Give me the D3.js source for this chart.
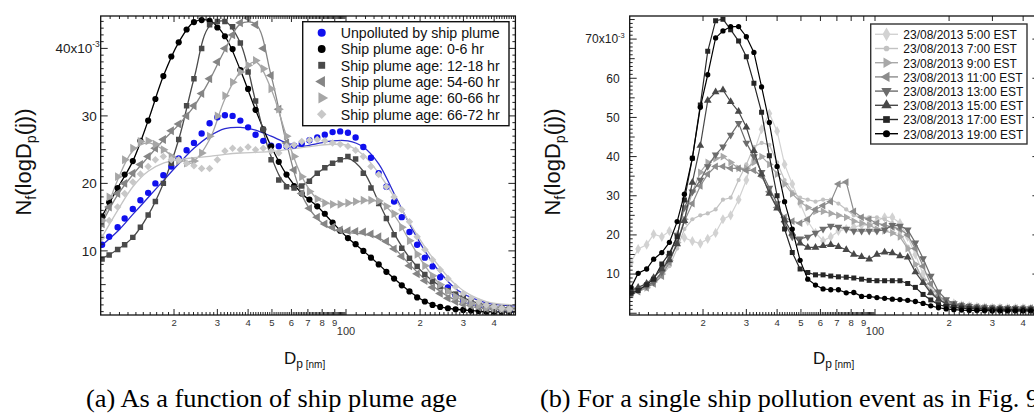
<!DOCTYPE html>
<html>
<head>
<meta charset="utf-8">
<script src="https://cdn.jsdelivr.net/npm/d3@7"></script>
<style>
  html, body { margin: 0; padding: 0; background: #fff; }
  svg { display: block; font-family: "Liberation Sans", Arial, Helvetica, sans-serif; }
  .caption { font-family: "Liberation Serif", "Times New Roman", Times, serif; }
</style>
</head>
<body>
<svg id="chart" width="1034" height="416"></svg>
<script>
// ---------------- data ----------------
// particle mobility diameters of the size bins (nm)
const diameters = [10.2, 10.9, 11.8, 12.6, 13.6, 14.6, 15.7, 16.8, 18.1, 19.5, 20.9, 22.5, 24.1, 25.9, 27.9, 30.0, 32.2, 34.6, 37.2, 40.0, 42.9, 46.1, 49.6, 53.3, 57.3, 61.5, 66.1, 71.0, 76.4, 82.0, 88.2, 94.7, 101.8, 109.4, 117.6, 126.3, 135.8, 145.9, 156.8, 168.5, 181.1, 194.6, 209.1, 224.7, 241.4, 259.5, 278.8, 299.6, 322.0, 346.0, 371.8, 399.5, 429.4, 461.4];
// diameters at which the fitted distributions are tabulated (nm)
const fitDiameters = [10, 11.8, 13.6, 15.7, 18.1, 20.9, 24.1, 27.9, 32.2, 37.2, 42.9, 49.6, 57.3, 66.1, 76.4, 88.2, 101.8, 117.6, 135.8, 156.8, 181.1, 209.1, 241.4, 278.8, 322.0, 371.8, 429.4, 490];

// (a) normalised size distributions, units of 1e-3
const unpolluted = [10.9, 12.1, 13.5, 14.8, 16.2, 17.5, 18.6, 20.0, 21.2, 22.5, 23.7, 24.9, 26.0, 27.4, 28.9, 29.8, 30.1, 30.0, 29.3, 28.3, 27.2, 26.3, 25.6, 25.5, 25.5, 25.6, 25.9, 26.4, 26.8, 27.2, 27.6, 27.7, 27.5, 26.8, 25.4, 23.8, 21.5, 19.5, 17.3, 15.0, 12.8, 10.9, 9.0, 7.7, 6.1, 4.6, 3.4, 2.6, 2.2, 1.85, 1.55, 1.3, 1.2, 1.1];
const age0to6 = [15.1, 17.2, 19.3, 21.3, 23.3, 26.3, 29.3, 32.5, 35.9, 38.8, 40.9, 42.8, 43.9, 44.2, 44.1, 43.1, 41.8, 39.9, 36.8, 34.0, 30.9, 28.0, 25.5, 23.2, 21.3, 19.6, 18.5, 17.6, 16.6, 15.5, 14.2, 13.0, 11.9, 11.0, 10.0, 9.0, 8.0, 6.9, 5.9, 4.9, 4.0, 3.1, 2.5, 2.0, 1.7, 1.5, 1.35, 1.25, 1.15, 1.1, 1.0, 1.0, 0.95, 0.95];
const age12to18 = [8.8, 9.4, 10.2, 10.9, 12.0, 13.5, 15.3, 17.3, 20.0, 23.0, 26.5, 31.5, 35.5, 40.0, 43.5, 44.0, 44.0, 43.2, 40.8, 36.5, 32.2, 28.0, 23.5, 20.5, 19.5, 19.3, 19.6, 20.3, 21.5, 22.3, 23.0, 23.5, 24.0, 23.6, 21.5, 19.3, 17.0, 14.8, 12.4, 10.4, 8.9, 7.7, 6.5, 5.5, 4.7, 4.1, 3.6, 3.1, 2.6, 2.2, 1.9, 1.7, 1.55, 1.5];
const age54to60 = [14.0, 16.5, 18.5, 20.0, 21.5, 22.8, 24.0, 25.2, 26.5, 27.8, 28.8, 30.0, 31.5, 33.3, 35.5, 38.0, 40.0, 42.0, 43.8, 44.5, 43.5, 40.0, 36.0, 31.0, 26.0, 22.0, 18.5, 16.3, 15.0, 14.0, 13.5, 13.1, 13.0, 12.9, 12.8, 12.5, 12.1, 11.4, 10.3, 9.2, 7.8, 6.6, 5.6, 4.6, 3.7, 3.0, 2.5, 2.1, 1.9, 1.65, 1.45, 1.36, 1.26, 1.2];
const age60to66 = [14.5, 18.0, 21.0, 23.5, 25.2, 26.2, 26.3, 25.8, 25.0, 24.0, 23.3, 23.0, 23.3, 24.5, 27.0, 30.0, 33.0, 35.0, 36.5, 37.5, 38.2, 37.0, 34.0, 31.0, 27.0, 24.0, 21.0, 18.8, 17.7, 17.1, 16.9, 16.9, 17.1, 17.3, 17.5, 17.5, 17.4, 16.6, 15.5, 13.5, 11.5, 9.5, 7.8, 6.3, 5.0, 4.0, 3.2, 2.6, 2.2, 1.9, 1.6, 1.45, 1.35, 1.3];
const age66to72 = [12.0, 14.5, 16.5, 18.5, 20.2, 21.4, 22.5, 23.5, 24.0, 23.5, 23.5, 23.0, 22.6, 22.2, 22.2, 23.5, 24.8, 25.2, 25.0, 25.4, 25.0, 25.2, 24.8, 24.5, 25.5, 25.7, 26.2, 26.4, 26.5, 26.3, 26.0, 25.8, 25.5, 24.9, 24.0, 22.5, 21.3, 19.5, 18.0, 16.1, 14.3, 12.1, 10.2, 8.7, 7.2, 5.9, 4.7, 3.7, 3.0, 2.5, 2.0, 1.75, 1.5, 1.4];

// (a) fitted distributions at fitDiameters
const fitUnpolluted = [10.6, 12.9, 15.4, 17.9, 20.4, 22.9, 25.2, 27.0, 28.1, 28.3, 27.9, 27.0, 26.0, 25.5, 25.9, 26.3, 26.3, 25.4, 22.9, 18.5, 14.0, 10.0, 6.8, 4.4, 3.1, 2.3, 1.95, 1.85];
const fitAge0to6 = [14.6, 19.3, 23.3, 29.3, 35.9, 40.9, 43.9, 44.1, 41.8, 36.8, 30.9, 25.5, 21.3, 18.5, 16.6, 14.2, 11.9, 10.0, 8.0, 5.9, 4.0, 2.5, 1.7, 1.35, 1.15, 1.0, 0.95, 0.95];
const fitAge12to18 = [8.7, 10.2, 12.0, 15.3, 20.0, 26.5, 35.5, 43.3, 44.0, 40.8, 32.2, 24.0, 19.8, 19.7, 21.5, 23.0, 23.7, 21.8, 17.2, 12.6, 9.0, 6.5, 4.8, 3.6, 2.6, 1.95, 1.6, 1.5];
const fitAge54to60 = [13.5, 18.3, 21.3, 23.9, 26.4, 28.7, 31.4, 35.3, 39.8, 43.6, 43.6, 36.0, 26.0, 18.3, 14.8, 13.2, 12.7, 12.5, 11.9, 10.4, 8.0, 5.8, 4.0, 2.7, 2.0, 1.55, 1.3, 1.25];
const fitAge60to66 = [13.0, 20.5, 24.8, 26.0, 25.0, 23.5, 23.4, 26.5, 32.5, 36.5, 38.0, 34.0, 27.0, 21.0, 17.7, 16.9, 17.0, 17.4, 17.3, 15.3, 11.5, 7.8, 5.0, 3.2, 2.2, 1.7, 1.4, 1.35];
const fitAge66to72 = [11.5, 16.0, 19.5, 21.8, 23.0, 23.5, 23.8, 24.0, 24.3, 24.5, 24.6, 24.7, 25.0, 25.3, 25.6, 25.8, 25.6, 24.2, 21.5, 18.0, 14.2, 10.6, 7.5, 5.0, 3.4, 2.5, 2.1, 2.0];

const namesA = ["Unpolluted by ship plume", "Ship plume age: 0-6 hr", "Ship plume age: 12-18 hr", "Ship plume age: 54-60 hr", "Ship plume age: 60-66 hr", "Ship plume age: 66-72 hr"];

// (b) one ship pollution event, units of 1e-3
const t0500 = [13.0, 16.4, 17.5, 20.2, 19.5, 21.0, 20.0, 19.3, 18.4, 17.8, 19.0, 20.5, 24.0, 25.0, 29.0, 34.0, 41.0, 47.0, 51.0, 46.5, 38.0, 33.0, 28.0, 23.5, 20.5, 18.5, 19.5, 21.0, 21.5, 22.0, 22.5, 22.5, 23.5, 24.5, 24.5, 23.0, 19.5, 15.0, 10.0, 6.5, 4.0, 3.0, 2.5, 2.0, 1.8, 1.6, 1.5, 1.4, 1.4, 1.3, 1.3, 1.3, 1.2, 1.2];
const t0700 = [6.0, 6.5, 7.0, 7.5, 9.5, 12.0, 16.5, 21.5, 24.0, 25.0, 25.5, 26.5, 29.0, 29.5, 34.0, 38.0, 42.5, 43.5, 43.0, 38.5, 34.0, 31.0, 29.5, 29.0, 28.5, 29.0, 29.0, 28.0, 26.5, 25.0, 24.5, 24.5, 24.5, 24.0, 23.0, 20.5, 17.0, 12.5, 8.0, 5.0, 3.5, 2.8, 2.3, 2.0, 1.7, 1.6, 1.5, 1.4, 1.4, 1.3, 1.3, 1.3, 1.3, 1.3];
const t0900 = [5.5, 6.0, 6.5, 8.0, 10.0, 13.5, 18.0, 24.0, 31.0, 36.0, 38.5, 39.5, 40.0, 38.5, 37.0, 37.0, 38.5, 40.0, 38.0, 35.5, 33.0, 30.5, 28.5, 27.0, 26.0, 26.0, 25.5, 25.0, 24.5, 23.5, 23.0, 22.5, 21.5, 21.0, 20.5, 19.5, 16.5, 12.5, 8.5, 5.5, 3.5, 2.7, 2.2, 1.9, 1.7, 1.5, 1.4, 1.3, 1.3, 1.2, 1.2, 1.2, 1.2, 1.2];
const t1100 = [4.8, 5.5, 6.5, 7.5, 9.5, 13.0, 18.0, 23.5, 28.0, 32.5, 35.5, 37.5, 37.5, 37.0, 37.0, 36.5, 36.5, 35.0, 31.0, 27.0, 24.5, 23.5, 23.0, 24.0, 26.5, 27.5, 28.5, 33.0, 33.5, 26.0, 24.5, 24.0, 23.0, 22.5, 22.0, 21.5, 20.0, 16.5, 12.0, 7.5, 4.5, 3.0, 2.4, 2.0, 1.8, 1.6, 1.5, 1.4, 1.4, 1.3, 1.3, 1.3, 1.3, 1.3];
const t1300 = [5.2, 6.0, 7.0, 8.0, 10.5, 14.5, 20.0, 27.0, 31.0, 34.0, 37.5, 40.5, 42.5, 45.5, 48.5, 43.5, 40.0, 36.0, 32.0, 28.0, 23.0, 19.5, 19.0, 19.5, 20.5, 21.5, 22.3, 22.0, 21.5, 21.0, 21.0, 21.0, 21.0, 21.3, 22.5, 22.3, 21.3, 18.0, 14.0, 9.5, 5.5, 3.5, 2.5, 2.0, 1.8, 1.6, 1.5, 1.4, 1.3, 1.3, 1.3, 1.2, 1.2, 1.2];
const t1500 = [5.8, 6.6, 7.6, 9.1, 11.3, 13.6, 17.7, 23.6, 33.4, 42.8, 54.3, 56.5, 57.0, 54.0, 51.5, 47.5, 41.5, 35.5, 30.6, 26.8, 23.8, 20.4, 17.9, 16.8, 16.8, 17.2, 17.5, 17.0, 16.2, 15.0, 14.4, 13.8, 15.0, 15.6, 15.4, 14.6, 14.3, 10.5, 7.8, 5.2, 3.5, 2.4, 2.0, 1.7, 1.5, 1.3, 1.2, 1.1, 1.1, 1.0, 1.0, 1.0, 1.0, 1.0];
const t1700 = [5.1, 5.8, 7.3, 8.7, 12.6, 15.3, 19.5, 28.9, 39.6, 53.2, 66.9, 74.7, 75.1, 72.4, 69.5, 65.5, 58.7, 51.3, 40.2, 30.0, 21.5, 15.5, 11.3, 10.4, 9.8, 9.8, 9.5, 9.3, 9.2, 9.0, 8.7, 8.4, 8.3, 8.3, 8.3, 8.3, 7.6, 6.6, 4.8, 3.4, 2.2, 1.7, 1.5, 1.3, 1.2, 1.1, 1.0, 1.0, 1.0, 0.95, 0.95, 0.9, 0.9, 0.9];
const t1900 = [6.6, 10.2, 11.3, 13.8, 15.5, 18.1, 23.4, 30.4, 39.6, 52.6, 60.9, 70.3, 72.1, 73.2, 73.2, 70.6, 66.6, 57.8, 48.7, 37.5, 28.5, 21.5, 13.5, 8.7, 7.2, 6.2, 6.0, 6.0, 5.2, 5.3, 4.3, 4.3, 4.0, 3.8, 3.6, 3.5, 3.3, 3.0, 2.5, 1.9, 1.4, 1.1, 0.9, 0.8, 0.7, 0.7, 0.65, 0.6, 0.6, 0.6, 0.6, 0.6, 0.6, 0.6];

const namesB = ["23/08/2013 5:00 EST", "23/08/2013 7:00 EST", "23/08/2013 9:00 EST", "23/08/2013 11:00 EST", "23/08/2013 13:00 EST", "23/08/2013 15:00 EST", "23/08/2013 17:00 EST", "23/08/2013 19:00 EST"];

// axis ticks
const xMajorTicks = [20, 30, 40, 50, 60, 70, 80, 90, 100, 200, 300, 400];
const xMajorLabels = ["2", "3", "4", "5", "6", "7", "8", "9", "100", "2", "3", "4"];
const yTicksA = [10, 20, 30, 40];
const yLabelsA = ["10", "20", "30", "40x10"];
const yTicksB = [10, 20, 30, 40, 50, 60, 70];
const yLabelsB = ["10", "20", "30", "40", "50", "60", "70x10"];
const yExponent = "-3";
const captionA = "(a) As a function of ship plume age";
const captionB = "(b) For a single ship pollution event as in Fig. 9";

// ---------------- drawing ----------------
const svg = d3.select("#chart");
svg.append("rect").attr("width", 1034).attr("height", 416).attr("fill", "#fff");
const defs = svg.append("defs");

const symbolFor = {
  circle:   [d3.symbolCircle, 0],
  square:   [d3.symbolSquare, 0],
  triUp:    [d3.symbolTriangle, 0],
  triDown:  [d3.symbolTriangle, 180],
  triLeft:  [d3.symbolTriangle, -90],
  triRight: [d3.symbolTriangle, 90],
  diamond:  [d3.symbolSquare, 45],
  spike:    [d3.symbolDiamond, 0]
};

function markers(g, pts, shape, size, color) {
  const [type, rot] = symbolFor[shape];
  const d = d3.symbol().type(type).size(size)();
  g.selectAll(null).data(pts).join("path")
    .attr("d", d)
    .attr("transform", p => `translate(${p[0]},${p[1]}) rotate(${rot})`)
    .attr("fill", color);
}

// minor tick positions for the log axis
const xMinorTicks = d3.range(11, 100).filter(v => v % 10 !== 0)
  .concat(d3.range(110, 490, 10).filter(v => v % 100 !== 0));

function drawFrame(p) {
  const g = svg.append("g");
  const [xl, xr] = p.x.range();
  const [yb, yt] = p.y.range();
  const [v0, v1] = p.y.domain();

  // y ticks, left and right
  let path = "";
  for (let v = Math.ceil(v0); v <= Math.floor(v1); v++) {
    const len = v % 10 === 0 ? 7 : (v % 5 === 0 ? 5 : 3);
    path += `M${xl},${p.y(v)}h${len}`;
    if (p.rightMinor || v % 10 === 0) path += `M${xr},${p.y(v)}h${-(v % 10 === 0 ? p.rightMajorLen : len)}`;
  }
  // x ticks, bottom and top
  xMajorTicks.forEach(d => {
    path += `M${p.x(d)},${yb}v-6`;
    path += `M${p.x(d)},${yt}v${p.topMajorLen}`;
  });
  xMinorTicks.forEach(d => {
    path += `M${p.x(d)},${yb}v-3`;
    if (p.topMinor) path += `M${p.x(d)},${yt}v3`;
  });
  g.append("path").attr("d", path).attr("stroke", "#222").attr("stroke-width", 1).attr("fill", "none");

  g.append("rect").attr("x", xl).attr("y", yt).attr("width", xr - xl).attr("height", yb - yt)
    .attr("fill", "none").attr("stroke", "#111").attr("stroke-width", 1.3);

  // y tick labels
  p.yTicks.forEach((v, i) => {
    const last = i === p.yTicks.length - 1;
    const t = g.append("text")
      .attr("x", last ? xl - p.expGap : xl - p.labelGap)
      .attr("y", p.y(v) + p.yFont * 0.36)
      .attr("text-anchor", "end")
      .attr("font-size", p.yFont)
      .attr("fill", "#222");
    t.append("tspan").text(p.yLabels[i]);
    if (last) {
      t.append("tspan").attr("font-size", p.yFont * 0.62).attr("dy", -p.yFont * 0.45).text(yExponent);
    }
  });

  // x tick labels
  xMajorTicks.forEach((d, i) => {
    const isDecade = xMajorLabels[i] === "100";
    g.append("text")
      .attr("x", p.x(d))
      .attr("y", isDecade ? yb + 20 : yb + 10.5)
      .attr("text-anchor", "middle")
      .attr("font-size", isDecade ? 11 : 9.5)
      .attr("fill", "#333")
      .text(xMajorLabels[i]);
  });

  // axis titles
  const yt2 = g.append("text")
    .attr("transform", `translate(${p.yTitleX},162) rotate(-90)`)
    .attr("text-anchor", "middle").attr("font-size", 22).attr("fill", "#111");
  yt2.append("tspan").text("N");
  yt2.append("tspan").attr("font-size", 14).attr("dy", 4.5).text("f");
  yt2.append("tspan").attr("dy", -4.5).text("(logD");
  yt2.append("tspan").attr("font-size", 14).attr("dy", 4.5).text("p");
  yt2.append("tspan").attr("dy", -4.5).text("(j))");

  const xt = g.append("text")
    .attr("x", p.xTitleX).attr("y", 364)
    .attr("font-size", 17).attr("fill", "#111");
  xt.append("tspan").text("D");
  xt.append("tspan").attr("font-size", 12).attr("dy", 4).text("p");
  xt.append("tspan").attr("font-size", 10).text(" [nm]");
}

function clipFor(id, p) {
  const [xl, xr] = p.x.range();
  const [yb, yt] = p.y.range();
  defs.append("clipPath").attr("id", id).append("rect")
    .attr("x", xl).attr("y", yt).attr("width", xr - xl).attr("height", yb - yt);
  return `url(#${id})`;
}

// ----- panel (a) -----
const pA = {
  x: d3.scaleLog().domain([10.07, 488]).range([100.7, 515.4]),
  y: d3.scaleLinear().domain([0.5, 44.8]).range([315, 16]),
  yTicks: yTicksA, yLabels: yLabelsA, yFont: 13.5, labelGap: 4, expGap: 1,
  rightMinor: true, rightMajorLen: 7, topMinor: true, topMajorLen: 6,
  yTitleX: 31, xTitleX: 284
};

const seriesA = [
  { name: namesA[0], values: unpolluted, fit: fitUnpolluted, shape: "circle", size: 32, color: "#1010ee", line: "#2a2ad0" },
  { name: namesA[1], values: age0to6, fit: fitAge0to6, shape: "circle", size: 30, color: "#000000", line: "#000000" },
  { name: namesA[2], values: age12to18, fit: fitAge12to18, shape: "square", size: 30, color: "#4a4a4a", line: "#4a4a4a" },
  { name: namesA[3], values: age54to60, fit: fitAge54to60, shape: "triLeft", size: 34, color: "#858585", line: "#858585" },
  { name: namesA[4], values: age60to66, fit: fitAge60to66, shape: "triRight", size: 34, color: "#a6a6a6", line: "#a6a6a6" },
  { name: namesA[5], values: age66to72, fit: fitAge66to72, shape: "diamond", size: 28, color: "#c8c8c8", line: "#c4c4c4" }
];

{
  const plot = svg.append("g").attr("clip-path", clipFor("clipA", pA));
  const fitLine = d3.line().x(d => pA.x(d[0])).y(d => pA.y(d[1])).curve(d3.curveCatmullRom.alpha(0.5));
  seriesA.forEach(s => {
    plot.append("path")
      .attr("d", fitLine(fitDiameters.map((d, i) => [d, s.fit[i]])))
      .attr("fill", "none").attr("stroke", s.line).attr("stroke-width", 1.3);
  });
  seriesA.forEach(s => {
    const g = plot.append("g");
    markers(g, diameters.map((d, i) => [pA.x(d), pA.y(s.values[i])]), s.shape, s.size, s.color);
  });
}
drawFrame(pA);

// legend (a)
{
  const lg = svg.append("g");
  lg.append("rect").attr("x", 302.7).attr("y", 21.7).attr("width", 206.3).attr("height", 104)
    .attr("fill", "#fff").attr("stroke", "#111").attr("stroke-width", 1.4);
  seriesA.forEach((s, i) => {
    const cy = 32.7 + i * 16.3;
    markers(lg.append("g"), [[321.7, cy]], s.shape, s.size * 1.6, s.color);
    lg.append("text")
      .attr("transform", `translate(340.7,${cy + 5.3}) scale(0.945,1)`)
      .attr("font-size", 15).attr("fill", "#111")
      .text(s.name);
  });
}

// ----- panel (b) -----
const pB = {
  x: d3.scaleLog().domain([10.07, 488]).range([629.7, 1044.4]),
  y: d3.scaleLinear().domain([-0.45, 75.9]).range([315, 16]),
  yTicks: yTicksB, yLabels: yLabelsB, yFont: 12, labelGap: 10, expGap: 5,
  rightMinor: false, rightMajorLen: 12, topMinor: false, topMajorLen: 5,
  yTitleX: 560, xTitleX: 813
};

const seriesB = [
  { name: namesB[0], values: t0500, shape: "spike",    size: 30, color: "#d2d2d2" },
  { name: namesB[1], values: t0700, shape: "circle",   size: 14, color: "#c2c2c2" },
  { name: namesB[2], values: t0900, shape: "triRight", size: 26, color: "#a8a8a8" },
  { name: namesB[3], values: t1100, shape: "triLeft",  size: 26, color: "#8c8c8c" },
  { name: namesB[4], values: t1300, shape: "triDown",  size: 26, color: "#6c6c6c" },
  { name: namesB[5], values: t1500, shape: "triUp",    size: 26, color: "#484848" },
  { name: namesB[6], values: t1700, shape: "square",   size: 25, color: "#262626" },
  { name: namesB[7], values: t1900, shape: "circle",   size: 22, color: "#000000" }
];

{
  const plot = svg.append("g").attr("clip-path", clipFor("clipB", pB));
  const line = d3.line().x(d => pB.x(d[0])).y(d => pB.y(d[1]));
  seriesB.forEach(s => {
    const pts = diameters.map((d, i) => [d, s.values[i]]);
    plot.append("path").attr("d", line(pts))
      .attr("fill", "none").attr("stroke", s.color).attr("stroke-width", 1.2);
    markers(plot.append("g"), pts.map(p => [pB.x(p[0]), pB.y(p[1])]), s.shape, s.size, s.color);
  });
}
drawFrame(pB);

// legend (b)
{
  const lg = svg.append("g");
  lg.append("rect").attr("x", 870.7).attr("y", 24).attr("width", 156.3).attr("height", 120)
    .attr("fill", "#fff").attr("stroke", "#333").attr("stroke-width", 1.4);
  seriesB.forEach((s, i) => {
    const cy = 34.3 + i * 14.2;
    lg.append("line").attr("x1", 875).attr("x2", 898).attr("y1", cy).attr("y2", cy)
      .attr("stroke", s.color).attr("stroke-width", 1.4);
    markers(lg.append("g"), [[886.5, cy]], s.shape, s.size * 1.8, s.color);
    lg.append("text")
      .attr("transform", `translate(903.3,${cy + 4.8}) scale(0.89,1)`)
      .attr("font-size", 13.5).attr("fill", "#111")
      .text(s.name);
  });
}

// captions
svg.append("text").attr("class", "caption").attr("x", 86).attr("y", 407)
  .attr("font-size", 26).attr("fill", "#000")
  .attr("textLength", 371).attr("lengthAdjust", "spacingAndGlyphs")
  .text(captionA);
svg.append("text").attr("class", "caption").attr("x", 540).attr("y", 407)
  .attr("font-size", 26).attr("fill", "#000")
  .attr("textLength", 499).attr("lengthAdjust", "spacingAndGlyphs")
  .text(captionB);
</script>
</body>
</html>
